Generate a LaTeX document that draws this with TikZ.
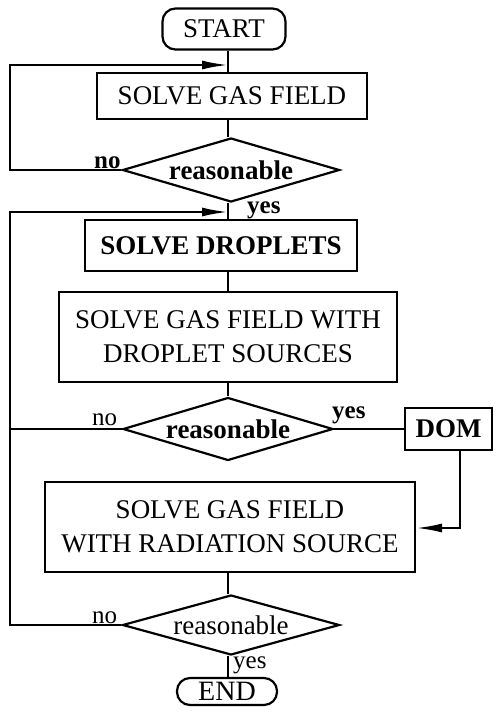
\documentclass[tikz,border=0pt]{standalone}
\usepackage{fontspec}
\setmainfont{Liberation Serif}
\usetikzlibrary{shapes.geometric,arrows.meta}
\begin{document}
\begin{tikzpicture}[x=1pt,y=1pt,
  every node/.style={font=\fontsize{27}{34}\selectfont},
  box/.style={draw,line width=2.2pt,rectangle,inner sep=0pt,align=center},
  term/.style={draw,line width=2.2pt,rectangle,rounded corners=13pt,inner sep=0pt},
  dec/.style={draw,line width=2.2pt,diamond,shape aspect=3.4,inner sep=0pt},
  conn/.style={line width=2.2pt},
  lab/.style={font=\fontsize{25}{27}\selectfont,inner sep=0pt},
  tip/.style={-{Latex[length=26pt,width=9pt]}}]
\useasboundingbox (0,0) rectangle (498,-715);
\node[term,minimum width=123pt,minimum height=41pt] (start) at (224,-29) {START};
\node[box,minimum width=270pt,minimum height=46pt] (b1) at (232,-96) {SOLVE GAS FIELD};
\node[dec,minimum width=217pt,minimum height=64pt] (d1) at (231,-170) {\textbf{reasonable}};
\node[box,minimum width=272pt,minimum height=51pt] (b2) at (221,-245.5) {\textbf{SOLVE DROPLETS}};
\node[box,minimum width=338pt,minimum height=90pt] (b3) at (228,-337) {SOLVE GAS FIELD WITH\\DROPLET SOURCES};
\node[dec,minimum width=210pt,minimum height=63pt] (d2) at (228,-429) {\textbf{reasonable}};
\node[box,minimum width=87pt,minimum height=42pt] (dom) at (448.5,-429) {\textbf{DOM}};
\node[box,minimum width=370pt,minimum height=90pt] (b4) at (230,-527) {SOLVE GAS FIELD\\WITH RADIATION SOURCE};
\node[dec,minimum width=217pt,minimum height=60pt] (d3) at (231,-625) {reasonable};
\node[term,minimum width=100pt,minimum height=27pt,font=\fontsize{28}{30}\selectfont] (end) at (227,-691.5) {END};

\coordinate (L1a) at (10,-170);
\coordinate (L1b) at (10,-65);
\coordinate (M1) at (228,-65);
\coordinate (L2a) at (10,-625);
\coordinate (L2b) at (10,-212);
\coordinate (M2) at (228,-212);
\coordinate (L3) at (10,-429);
\coordinate (R1) at (460,-528);

\draw[conn] (start.south -| M1) -- (b1.north -| M1);
\draw[conn] (b1.south -| M1) -- (d1.north -| M1);
\draw[conn] (d1.south -| M1) -- (b2.north -| M1);
\draw[conn] (b2.south -| M1) -- (b3.north -| M1);
\draw[conn] (b3.south -| M1) -- (d2.north);
\draw[conn] (b4.south -| M1) -- (d3.north -| M1);
\draw[conn] (d3.south -| M1) -- (end.north -| M1);
\draw[conn,tip] (d1.west) -- (L1a) -- (L1b) -- (M1);
\draw[conn,tip] (d3.west) -- (L2a) -- (L2b) -- (M2);
\draw[conn] (d2.west) -- (L3);
\draw[conn] (d2.east) -- (dom.west);
\draw[conn,tip] (dom.south -| R1) -- (R1) -- (R1 -| b4.east);

\node[lab,anchor=south west] (n1) at (94,-169) {\textbf{no}};
\node[lab,anchor=south west] (y1) at (247,-219) {\textbf{yes}};
\node[lab,anchor=south west] (n2) at (92,-426) {no};
\node[lab,anchor=south west] (y2) at (332,-424) {\textbf{yes}};
\node[lab,anchor=south west] (n3) at (92,-624) {no};
\node[lab,anchor=south west] (y3) at (233,-674) {yes};
\end{tikzpicture}
\end{document}
